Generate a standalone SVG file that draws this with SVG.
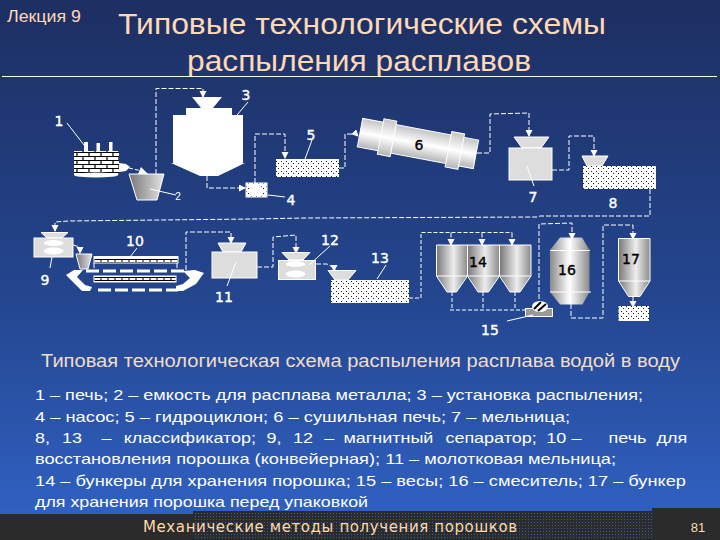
<svg xmlns="http://www.w3.org/2000/svg" width="720" height="540" viewBox="0 0 720 540">
<style>
text{font-family:"Liberation Sans",Arial,sans-serif}
.t{fill:#ffd8b4;font-size:30px;text-anchor:middle}
.b{fill:#fff;font-size:15px}
.n{fill:#fff;stroke:#fff;stroke-width:.4;font-size:14px;text-anchor:middle;font-family:"DejaVu Sans",sans-serif}
.k{fill:#000;stroke:#000;stroke-width:.4;font-size:14px;text-anchor:middle;font-family:"DejaVu Sans",sans-serif}
.d{fill:none;stroke:#fff;stroke-width:1;stroke-dasharray:4 2}
.d2{fill:none;stroke:#fff;stroke-width:1;stroke-dasharray:5 2;marker-end:url(#a)}
.s{fill:none;stroke:#fff;stroke-width:1}
.g7{fill:#ddd;stroke:#fff;stroke-width:1}
.bar{fill:none;stroke:#fff;stroke-width:3;stroke-dasharray:13 4}
</style>
<defs>
<linearGradient id="bg" x1="0" y1="0" x2="0" y2="1"><stop offset="0" stop-color="#1d2f62"/><stop offset=".55" stop-color="#24468f"/><stop offset="1" stop-color="#3163c6"/></linearGradient>
<linearGradient id="h" x1="0" y1="0" x2="1" y2="0"><stop offset="0" stop-color="#777"/><stop offset=".55" stop-color="#eee"/><stop offset="1" stop-color="#8a8a8a"/></linearGradient>
<linearGradient id="m" x1="0" y1="0" x2="1" y2="0"><stop offset="0" stop-color="#8a8a8a"/><stop offset=".5" stop-color="#fff"/><stop offset="1" stop-color="#8a8a8a"/></linearGradient>
<linearGradient id="bk" x1="0" y1="0" x2="1" y2="0"><stop offset="0" stop-color="#777"/><stop offset="1" stop-color="#e4e4e4"/></linearGradient>
<linearGradient id="cy" x1="0" y1="0" x2="0" y2="1"><stop offset="0" stop-color="#c4c4c4"/><stop offset=".5" stop-color="#fff"/><stop offset="1" stop-color="#b4b4b4"/></linearGradient>
<pattern id="dots" width="5" height="5" patternUnits="userSpaceOnUse"><rect width="5" height="5" fill="#fff"/><rect x="1" y="1" width="1" height="1" fill="#222"/><rect x="3" y="3" width="1" height="1" fill="#222"/></pattern>
<pattern id="brick" x="74" y="151" width="12" height="8" patternUnits="userSpaceOnUse"><rect width="12" height="8" fill="#fff"/><path d="M0 1.500H12M0 5.500H12M3 1.500V5.500M9 5.500V8M9 0V1.500" stroke="#000" stroke-width="1.200" fill="none"/></pattern>
<pattern id="belt" width="7" height="6" patternUnits="userSpaceOnUse"><rect width="7" height="6" fill="#fff"/><path d="M0 1.500H7M0 4.500H7M3 1.500V4.500" stroke="#000" fill="none"/></pattern>
<pattern id="fd" width="3" height="3" patternUnits="userSpaceOnUse"><rect width="3" height="3" fill="#2b2b2b"/><rect width="1" height="1" fill="#3a5f9e"/></pattern>
<marker id="a" markerWidth="9" markerHeight="9" refX="6" refY="3.500" orient="auto" markerUnits="userSpaceOnUse"><path d="M0 0L7 3.500L0 7Z" fill="#fff"/></marker>
</defs>
<rect width="720" height="540" fill="url(#bg)"/>
<g id="footer">
<rect x="0" y="514" width="720" height="26" fill="#2b2b2b"/>
<rect x="193" y="511" width="459" height="29" fill="url(#fd)"/>
<rect x="652" y="508" width="68" height="32" fill="#2b2b2b"/>
<text x="143" y="532" style="font-size:15px;font-family:'DejaVu Sans',sans-serif" textLength="374" fill="#ffd9a8">Механические методы получения порошков</text>
<text x="698" y="532" style="font-size:13px" text-anchor="middle" fill="#ffd9a8">81</text>
</g>
<g id="header">
<text x="7" y="22" style="font-size:16px" textLength="74" lengthAdjust="spacingAndGlyphs" fill="#ffd8b4">Лекция 9</text>
<text class="t" x="362" y="34" textLength="488" lengthAdjust="spacingAndGlyphs">Типовые технологические схемы</text>
<text class="t" x="359" y="71" textLength="344" lengthAdjust="spacingAndGlyphs">распыления расплавов</text>
<line x1="2" y1="76.500" x2="717" y2="76.500" stroke="#fff"/>
</g>
<g id="connectors">
<path class="d" d="M129 168L142 171"/><path d="M141 167L148 174L138 174Z" fill="#fff"/>
<path class="d2" d="M156 174V88.500H203V97"/>
<path class="d2" d="M207 176V188H245"/>
<path class="d2" d="M255 183V134H285V158"/>
<path class="d2" d="M339 168H345V134H356L358 136"/>
<path class="d2" d="M477 153H490V114L529 113V136"/>
<path class="d2" d="M552 170H569V136H594V156"/>
<path class="d2" d="M650 189V216H540L537 217L305 218L253 219L68 221L55 222V231"/>
<path class="d2" d="M73 245L80 247V253"/>
<path class="d2" d="M186 270V232H231V243"/>
<path class="d2" d="M257 267H273V237L296 235V253"/>
<path class="d2" d="M316 264H327L334 268V271"/>
<path class="d" d="M409 298H421V232.500H512"/>
<path class="d2" d="M451 232.500V245"/><path class="d2" d="M482 232.500V245"/><path class="d2" d="M512 232.500V245"/>
<path class="d" d="M452 292V310M483 292V310M515 292V310M450 310H526"/>
<path class="d2" d="M539 306V224L572 223V239"/>
<path class="d2" d="M571 304V318H603V225H633V239"/>
<path class="s" d="M633 297V307" marker-end="url(#a)"/>
</g>
<g id="n1"><rect x="74" y="151" width="45" height="24" fill="url(#brick)"/><ellipse cx="96" cy="175" rx="22" ry="2.500" fill="#fff"/><rect x="84" y="142" width="4" height="10" fill="#fff"/><rect x="96.500" y="143" width="3.500" height="9" fill="#fff"/><rect x="109" y="142" width="3.500" height="10" fill="#fff"/><path d="M119 163L126 164L130 167L126 171L119 172Z" fill="#fff"/><line class="s" x1="67" y1="123" x2="84" y2="145"/><text class="n" x="59" y="126">1</text></g>
<g id="n2"><path d="M129 174H164L157 200H137Z" fill="url(#bk)" stroke="#fff"/><line class="s" x1="150" y1="189" x2="176" y2="195"/><text x="178" y="200" fill="#fff" style="font-size:10px" text-anchor="middle">2</text></g>
<g id="n3"><path d="M192 97H222L213 108H201ZM186 108H232V115H243V163H245L218 176H200L171 163H173V115H186Z" fill="#fff"/><line class="s" x1="248" y1="102" x2="237" y2="115"/><text class="n" x="246" y="100">3</text></g>
<g id="n4"><rect x="246" y="183" width="21" height="14" fill="url(#dots)" stroke="#fff"/><ellipse cx="256" cy="190" rx="7" ry="5.500" fill="#fff"/><line class="s" x1="268" y1="195" x2="285" y2="197"/><text class="n" x="291" y="205">4</text></g>
<g id="n5"><rect x="276" y="159" width="63" height="18" fill="url(#dots)"/><line class="s" x1="312" y1="140" x2="305" y2="159"/><text class="n" x="311" y="140">5</text></g>
<g id="n6"><g transform="rotate(10.700 418 143.500)"><rect x="359" y="129" width="118" height="29" fill="url(#cy)" stroke="#fff"/><rect x="380" y="125.500" width="13" height="36" fill="url(#cy)" stroke="#fff"/><rect x="449" y="125.500" width="13" height="36" fill="url(#cy)" stroke="#fff"/></g><text class="k" x="419" y="150">6</text></g>
<g id="n7"><path d="M514 137H549L541 148H522Z" fill="#ddd" stroke="#fff"/><rect x="509" y="148" width="43" height="32" class="g7"/><line class="s" x1="527" y1="166" x2="534" y2="186"/><text class="n" x="533" y="202">7</text></g>
<g id="n8"><path d="M582 156H608L602 166H587Z" fill="#ddd" stroke="#fff"/><rect x="583" y="166" width="73" height="23" fill="url(#dots)"/><text class="n" x="613" y="208">8</text></g>
<g id="n9"><path d="M41 232.500H68L62 238H47Z" fill="#ddd" stroke="#fff"/><rect x="34" y="238" width="39" height="19" class="g7"/><ellipse cx="53.500" cy="243" rx="10" ry="3" fill="#fff"/><ellipse cx="53.500" cy="251" rx="10" ry="3.500" fill="#fff"/><line class="s" x1="52" y1="257" x2="50" y2="268"/><text class="n" x="45" y="285">9</text></g>
<g id="bucket9"><path d="M76 254H92L88 269H80Z" fill="url(#bk)" stroke="#fff"/></g>
<g id="n10"><rect x="94" y="256.500" width="84" height="6.500" fill="url(#belt)" stroke="#fff"/><rect x="94" y="276" width="82" height="6" fill="url(#belt)" stroke="#fff"/><path class="s" d="M94 263V268M177 263V268"/>
<path class="bar" d="M86 271H184"/><path class="bar" d="M98 290H178"/><path d="M66 275L74 270H83L77 277L85 285L92 287L90 291L82 291L77 286ZM195 270L204 273L196 284L183 291L176 291L176 286L183 284L190 278L183 271Z" fill="#fff"/>
<line class="s" x1="137" y1="248" x2="130" y2="257"/><text class="n" x="135" y="246">10</text></g>
<g id="n11"><path d="M218 243H246L241 252H223Z" fill="#ddd" stroke="#fff"/><rect x="212" y="252" width="45" height="26" class="g7"/><line class="s" x1="236" y1="262" x2="227" y2="286"/><text class="n" x="224" y="302">11</text></g>
<g id="n12"><path d="M282 252.500H310L303 260H289Z" fill="#ddd" stroke="#fff"/><rect x="278.500" y="260.500" width="37" height="19" class="g7"/><ellipse cx="295.500" cy="264" rx="10" ry="3" fill="#fff"/><ellipse cx="295.500" cy="274" rx="10" ry="3.500" fill="#fff"/><line class="s" x1="330" y1="246" x2="309" y2="265"/><text class="n" x="330" y="245">12</text></g>
<g id="n13"><path d="M328 270.500H356L348 280H335Z" fill="#ddd" stroke="#fff"/><rect x="331" y="280" width="78" height="23" fill="url(#dots)"/><line class="s" x1="386" y1="265" x2="377" y2="279"/><text class="n" x="380" y="263">13</text></g>
<g id="n14"><path d="M436.500 245H467.500V276L456.500 292H447L436.500 276Z" fill="url(#h)" stroke="#fff"/><path d="M467.500 245H499.500V276L488.500 292H478L467.500 276Z" fill="url(#h)" stroke="#fff"/><path d="M499.500 245H531V276L520 292H510L499.500 276Z" fill="url(#h)" stroke="#fff"/><path class="s" d="M436.500 276H531"/><text class="k" x="478" y="267">14</text></g>
<g id="n15"><rect x="525.500" y="308.500" width="27" height="8" fill="#999" stroke="#fff"/><ellipse cx="540" cy="306.500" rx="8" ry="5.500" fill="#fff"/><path d="M534 309L541 302M538 311L546 304" stroke="#000" stroke-width="2"/><line class="s" x1="507" y1="321" x2="533" y2="315"/><text class="n" x="490" y="335">15</text></g>
<g id="n16"><path d="M560 237.500H582L589.500 250V292L582.500 304.500H560L550 292V250Z" fill="url(#m)"/><path class="s" d="M550 250.500H590M550 292H591"/><text class="k" x="567" y="275">16</text></g>
<g id="n17"><path d="M618.500 238.500H650V281L640 296.500H628.500L618.500 281Z" fill="url(#h)" stroke="#fff"/><path class="s" d="M618.500 281H650"/><text class="k" x="631" y="264">17</text><rect x="618.500" y="306" width="30.500" height="15" fill="url(#dots)"/></g>
<g id="caption">
<text x="41" y="366.500" style="font-size:17.500px" textLength="639" lengthAdjust="spacingAndGlyphs" fill="#f2dccb">Типовая технологическая схема распыления расплава водой в воду</text>
<text class="b" x="35" y="400" textLength="608" lengthAdjust="spacingAndGlyphs">1 – печь;  2 – емкость для расплава металла; 3 – установка распыления;</text>
<text class="b" x="35" y="421.500" textLength="535" lengthAdjust="spacingAndGlyphs">4 – насос;   5 – гидроциклон; 6 – сушильная печь; 7 – мельница;</text>
<text class="b" transform="translate(35 443) scale(1.2 1)"><tspan x="0">8, </tspan><tspan x="22.500">13 </tspan><tspan x="55.500">– </tspan><tspan x="74">классификатор; </tspan><tspan x="193">9, </tspan><tspan x="215">12 </tspan><tspan x="241">– </tspan><tspan x="257">магнитный </tspan><tspan x="342">сепаратор; </tspan><tspan x="426">10 </tspan><tspan x="447">– </tspan><tspan x="478">печь </tspan><tspan x="518">для</tspan></text>
<text class="b" x="35" y="464" textLength="581" lengthAdjust="spacingAndGlyphs">восстановления порошка  (конвейерная);  11 – молотковая мельница;</text>
<text class="b" x="35" y="485.500" textLength="651" lengthAdjust="spacingAndGlyphs">14 – бункеры для хранения порошка; 15 – весы; 16 – смеситель; 17 – бункер</text>
<text class="b" x="35" y="506.500" textLength="333" lengthAdjust="spacingAndGlyphs">для хранения порошка перед упаковкой</text>
</g>
</svg>
